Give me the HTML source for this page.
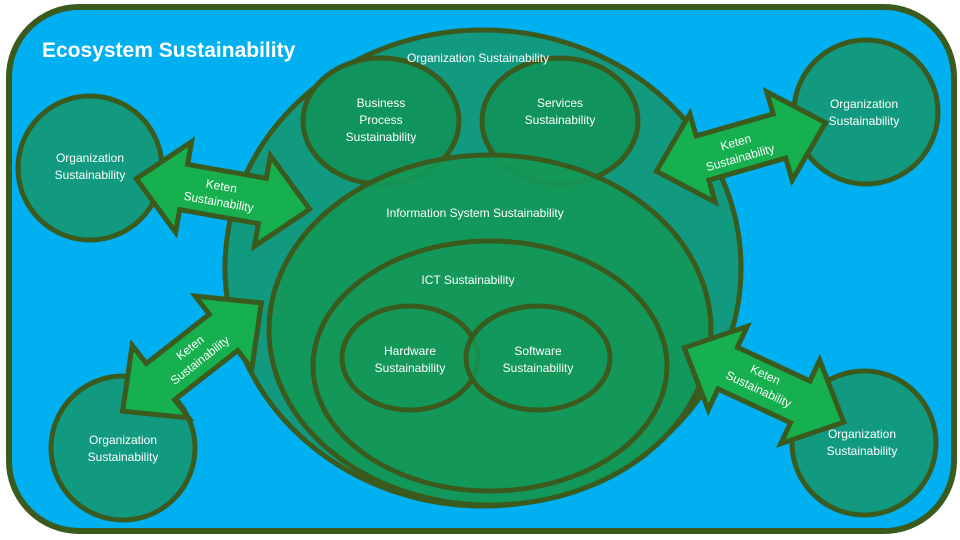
<!DOCTYPE html>
<html><head><meta charset="utf-8"><style>
html,body{margin:0;padding:0;background:#fff;width:960px;height:540px;overflow:hidden}
text{font-family:"Liberation Sans",sans-serif;fill:#fff;font-size:12px;text-anchor:middle}
</style></head><body>
<svg width="960" height="540" viewBox="0 0 960 540" xmlns="http://www.w3.org/2000/svg">
<defs>
<path id="arr" d="M-88,0 L-40,-46 L-40,-23 L40,-23 L40,-46 L88,0 L40,46 L40,23 L-40,23 L-40,46 Z"/>
</defs>
<rect x="9" y="7" width="945" height="524" rx="70" fill="#00b0f0" stroke="#3a5a1e" stroke-width="6"/>
<text x="42" y="57" style="font-size:21px;font-weight:bold;text-anchor:start">Ecosystem Sustainability</text>

<g stroke="#3a5a1e" stroke-width="5">
<ellipse cx="483" cy="268" rx="258" ry="238" fill="#129a80"/>
<ellipse cx="381" cy="121" rx="78" ry="63" fill="#11935e"/>
<ellipse cx="560" cy="121" rx="78" ry="63" fill="#11935e"/>
<ellipse cx="490" cy="330" rx="221" ry="175" fill="#139858" fill-opacity="0.92"/>
<ellipse cx="490" cy="366" rx="177" ry="125" fill="#13985a"/>
<ellipse cx="410" cy="358" rx="68" ry="52" fill="#13985a"/>
<ellipse cx="538" cy="358" rx="72" ry="52" fill="#13985a" fill-opacity="0.8"/>
<circle cx="90" cy="168" r="72" fill="#129a80"/>
<circle cx="123" cy="448" r="72" fill="#129a80"/>
<circle cx="866" cy="112" r="72" fill="#129a80"/>
<circle cx="864" cy="443" r="72" fill="#129a80"/>
</g>
<text x="478" y="62">Organization Sustainability</text>
<text x="381" y="107">Business</text><text x="381" y="124">Process</text><text x="381" y="141">Sustainability</text>
<text x="560" y="107">Services</text><text x="560" y="124">Sustainability</text>
<text x="475" y="217">Information System Sustainability</text>
<text x="468" y="284">ICT Sustainability</text>
<text x="410" y="355">Hardware</text><text x="410" y="372">Sustainability</text>
<text x="538" y="355">Software</text><text x="538" y="372">Sustainability</text>
<text x="90" y="162">Organization</text><text x="90" y="179">Sustainability</text>
<text x="123" y="444">Organization</text><text x="123" y="461">Sustainability</text>
<text x="864" y="108">Organization</text><text x="864" y="125">Sustainability</text>
<text x="862" y="438">Organization</text><text x="862" y="455">Sustainability</text>

<g fill="#16b04e" stroke="#3a5a1e" stroke-width="5" stroke-linejoin="miter">
<use href="#arr" transform="translate(223,194) rotate(10)"/>
<use href="#arr" transform="translate(192,357) rotate(-38)"/>
<use href="#arr" transform="translate(741,147) rotate(-16)"/>
<use href="#arr" transform="translate(764,385) rotate(25)"/>
</g>
<g style="font-size:13px">
<g transform="translate(220,194) rotate(10)"><text y="-4">Keten</text><text y="12">Sustainability</text></g>
<g transform="translate(195,354) rotate(-38)"><text y="-4">Keten</text><text y="12">Sustainability</text></g>
<g transform="translate(738,150) rotate(-16)"><text y="-4">Keten</text><text y="12">Sustainability</text></g>
<g transform="translate(762,382) rotate(25)"><text y="-4">Keten</text><text y="12">Sustainability</text></g>
</g>
</svg>
</body></html>
